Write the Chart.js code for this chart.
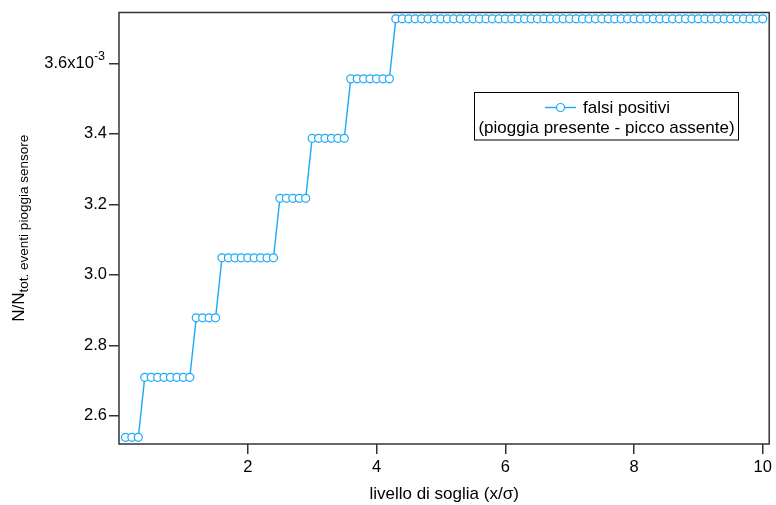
<!DOCTYPE html>
<html>
<head>
<meta charset="utf-8">
<script src="https://cdn.jsdelivr.net/npm/chart.js@4.4.1/dist/chart.umd.min.js"></script>
<style>
  html, body { margin: 0; padding: 0; background: #fff; }
  #wrap { width: 776px; height: 505px; }
</style>
</head>
<body>
<div id="wrap"><canvas id="grafico" width="776" height="505"></canvas></div>
<script>
// livello di soglia (x/sigma)
const soglia = [
  0.1, 0.2, 0.3,
  0.4, 0.5, 0.6, 0.7, 0.8, 0.9, 1.0, 1.1,
  1.2, 1.3, 1.4, 1.5,
  1.6, 1.7, 1.8, 1.9, 2.0, 2.1, 2.2, 2.3, 2.4,
  2.5, 2.6, 2.7, 2.8, 2.9,
  3.0, 3.1, 3.2, 3.3, 3.4, 3.5,
  3.6, 3.7, 3.8, 3.9, 4.0, 4.1, 4.2,
  4.3, 4.4, 4.5, 4.6, 4.7, 4.8, 4.9, 5.0, 5.1, 5.2,
  5.3, 5.4, 5.5, 5.6, 5.7, 5.8, 5.9, 6.0, 6.1, 6.2,
  6.3, 6.4, 6.5, 6.6, 6.7, 6.8, 6.9, 7.0, 7.1, 7.2,
  7.3, 7.4, 7.5, 7.6, 7.7, 7.8, 7.9, 8.0, 8.1, 8.2,
  8.3, 8.4, 8.5, 8.6, 8.7, 8.8, 8.9, 9.0, 9.1, 9.2,
  9.3, 9.4, 9.5, 9.6, 9.7, 9.8, 9.9, 10.0
];

// N/Ntot (in unita' di 10^-3)
const falsiPositivi = [
  2.539, 2.539, 2.539,
  2.709, 2.709, 2.709, 2.709, 2.709, 2.709, 2.709, 2.709,
  2.878, 2.878, 2.878, 2.878,
  3.048, 3.048, 3.048, 3.048, 3.048, 3.048, 3.048, 3.048, 3.048,
  3.217, 3.217, 3.217, 3.217, 3.217,
  3.387, 3.387, 3.387, 3.387, 3.387, 3.387,
  3.556, 3.556, 3.556, 3.556, 3.556, 3.556, 3.556,
  3.726, 3.726, 3.726, 3.726, 3.726, 3.726, 3.726, 3.726, 3.726, 3.726,
  3.726, 3.726, 3.726, 3.726, 3.726, 3.726, 3.726, 3.726, 3.726, 3.726,
  3.726, 3.726, 3.726, 3.726, 3.726, 3.726, 3.726, 3.726, 3.726, 3.726,
  3.726, 3.726, 3.726, 3.726, 3.726, 3.726, 3.726, 3.726, 3.726, 3.726,
  3.726, 3.726, 3.726, 3.726, 3.726, 3.726, 3.726, 3.726, 3.726, 3.726,
  3.726, 3.726, 3.726, 3.726, 3.726, 3.726, 3.726, 3.726
];

const xTicks = [2, 4, 6, 8, 10];
const yTicks = [2.6, 2.8, 3.0, 3.2, 3.4, 3.6];
const legendaRighe = ["falsi positivi", "(pioggia presente - picco assente)"];

const BLU = "#1AA8F8";
const ASSE = "#333333";
const FONT = '"Liberation Sans", Arial, sans-serif';

// testo che Chart.js non sa fare da solo (apici, pedici, legenda a due righe)
const decorazioni = {
  id: "decorazioni",
  afterDraw(chart) {
    const { ctx, chartArea: a, scales: { y } } = chart;
    ctx.save();

    // cornice
    ctx.strokeStyle = ASSE;
    ctx.lineWidth = 1.5;
    ctx.strokeRect(a.left, a.top, a.right - a.left, a.bottom - a.top);

    // etichette asse y
    ctx.fillStyle = "#000";
    ctx.textBaseline = "middle";
    ctx.textAlign = "right";
    yTicks.forEach((v, i) => {
      const py = y.getPixelForValue(v);
      if (i === yTicks.length - 1) {
        ctx.font = "12.5px " + FONT;
        ctx.fillText("-3", 105, py - 7);
        const w = ctx.measureText("-3").width;
        ctx.font = "16.5px " + FONT;
        ctx.fillText(v.toFixed(1) + "x10", 105 - w, py);
      } else {
        ctx.font = "16.5px " + FONT;
        ctx.fillText(v.toFixed(1), 107, py);
      }
    });

    // titolo asse y con pedice
    ctx.save();
    ctx.translate(24, (a.top + a.bottom) / 2);
    ctx.rotate(-Math.PI / 2);
    ctx.textAlign = "left";
    ctx.textBaseline = "alphabetic";
    ctx.font = "17px " + FONT;
    const t1 = "N/N";
    const w1 = ctx.measureText(t1).width;
    ctx.font = "13.5px " + FONT;
    const t2 = "tot. eventi pioggia sensore";
    const w2 = ctx.measureText(t2).width;
    const x0 = -(w1 + w2) / 2;
    ctx.font = "17px " + FONT;
    ctx.fillText(t1, x0, 0);
    ctx.font = "13.5px " + FONT;
    ctx.fillText(t2, x0 + w1, 4);
    ctx.restore();

    // titolo asse x
    ctx.textAlign = "center";
    ctx.textBaseline = "middle";
    ctx.font = "17px " + FONT;
    ctx.fillText("livello di soglia (x/\u03C3)", (a.left + a.right) / 2, 494);

    // legenda
    ctx.strokeStyle = "#000";
    ctx.lineWidth = 1;
    ctx.strokeRect(474.5, 92.5, 264, 47.5);
    ctx.strokeStyle = BLU;
    ctx.lineWidth = 1.4;
    ctx.beginPath();
    ctx.moveTo(545, 107.5);
    ctx.lineTo(576, 107.5);
    ctx.stroke();
    ctx.beginPath();
    ctx.arc(560.5, 107.5, 4, 0, Math.PI * 2);
    ctx.fillStyle = "#fff";
    ctx.fill();
    ctx.lineWidth = 1.2;
    ctx.stroke();
    ctx.fillStyle = "#000";
    ctx.font = "17px " + FONT;
    ctx.textAlign = "left";
    ctx.fillText(legendaRighe[0], 583, 108);
    ctx.textAlign = "center";
    ctx.fillText(legendaRighe[1], 606.5, 128.5);

    ctx.restore();
  }
};

new Chart(document.getElementById("grafico"), {
  type: "line",
  data: {
    datasets: [{
      label: legendaRighe.join(" "),
      data: soglia.map((x, i) => ({ x: x, y: falsiPositivi[i] })),
      borderColor: BLU,
      borderWidth: 1.4,
      pointRadius: 4,
      pointBorderWidth: 1.2,
      pointBackgroundColor: "#fff",
      pointBorderColor: BLU,
      tension: 0,
      clip: false
    }]
  },
  options: {
    responsive: false,
    animation: false,
    devicePixelRatio: 1,
    layout: { padding: { top: 12.5, right: 4.3, left: 0, bottom: 0 } },
    plugins: {
      legend: { display: false },
      tooltip: { enabled: false }
    },
    scales: {
      x: {
        type: "linear",
        min: 0,
        max: 10.1,
        afterBuildTicks: (s) => { s.ticks = xTicks.map(v => ({ value: v })); },
        afterFit: (s) => { s.height = 61; },
        grid: { drawOnChartArea: false, drawTicks: true, tickLength: 10, color: ASSE, lineWidth: 1.5 },
        border: { display: false },
        ticks: { color: "#000", font: { size: 16.5, family: FONT }, padding: 4, maxRotation: 0 }
      },
      y: {
        type: "linear",
        min: 2.52,
        max: 3.744,
        afterBuildTicks: (s) => { s.ticks = yTicks.map(v => ({ value: v })); },
        afterFit: (s) => { s.width = 119; },
        grid: { drawOnChartArea: false, drawTicks: true, tickLength: 10, color: ASSE, lineWidth: 1.5 },
        border: { display: false },
        ticks: { display: false }
      }
    }
  },
  plugins: [decorazioni]
});
</script>
</body>
</html>
